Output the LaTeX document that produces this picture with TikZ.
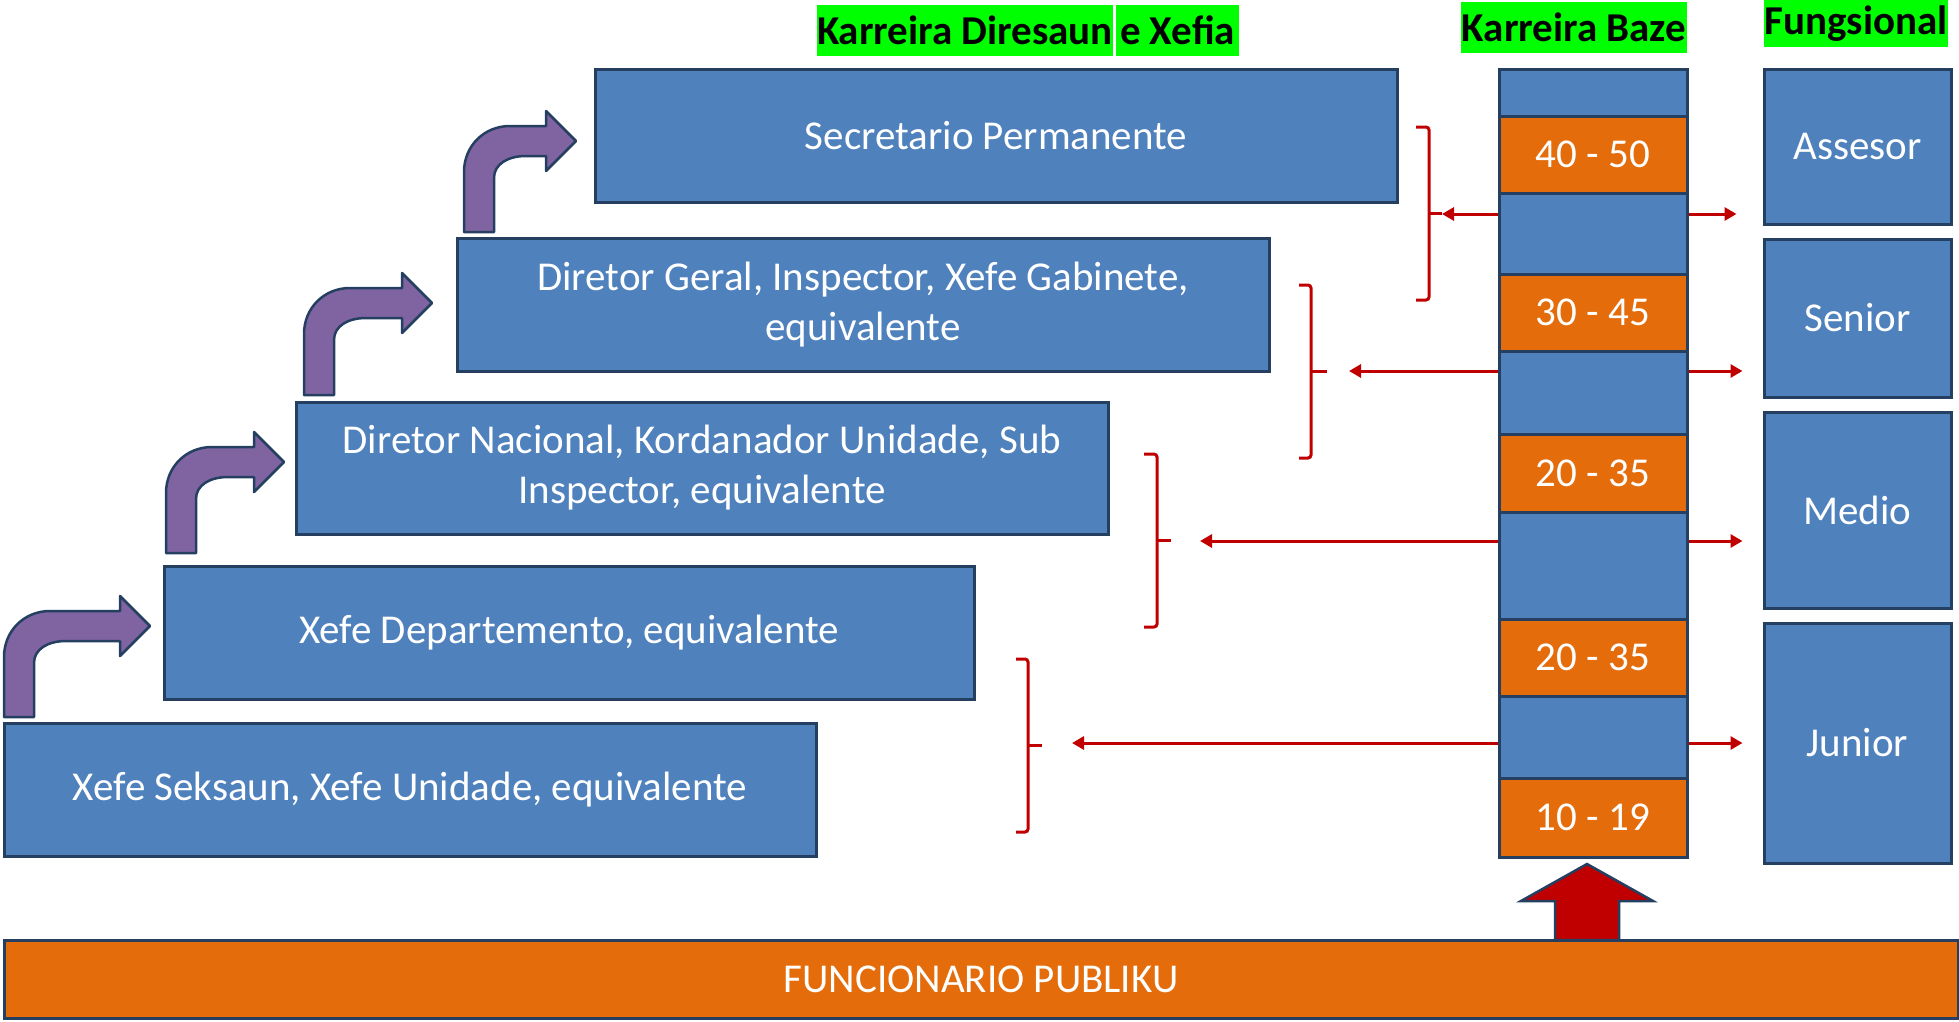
\documentclass[tikz,border=0pt]{standalone}
\usepackage{fontspec}
\setmainfont{Carlito}
\usepackage{tikz}
\usetikzlibrary{arrows.meta}

\definecolor{boxblue}{HTML}{4F81BD}
\definecolor{boxline}{HTML}{243F60}
\definecolor{baseorange}{HTML}{E46C0A}
\definecolor{climbviolet}{HTML}{8064A2}
\definecolor{linkred}{HTML}{C00000}
\definecolor{headgreen}{HTML}{00FF00}

% stem left, stem bottom, arm top, tip
\newcommand{\bentup}[4]{%
  \draw [climb] (#1, #2) -- (#1, {#3+46})
    .. controls (#1, {#3+20}) and ({#1+20}, #3) .. ({#1+46}, #3)
    -- ({#4-30}, #3) -- ({#4-30}, {#3-15}) -- (#4, {#3+15})
    -- ({#4-30}, {#3+45}) -- ({#4-30}, {#3+30}) -- ({#1+62}, {#3+30})
    .. controls ({#1+44}, {#3+30}) and ({#1+30}, {#3+38}) .. ({#1+30}, {#3+52})
    -- ({#1+30}, #2) -- cycle;}

% hook x, spine x, tip x, top y, bottom y
\newcommand{\rangebrace}[5]{%
  \draw [bracket, rounded corners = 3pt] (#1, #4) -- (#2, #4) -- (#2, #5) -- (#1, #5);
  \draw [bracket] (#2, {(#4+#5)/2}) -- (#3, {(#4+#5)/2});}

\begin{document}
\begin{tikzpicture}[x = 1pt, y = -1pt,
                        rank/.style = {draw = boxline, fill = boxblue, line width = 3pt, text = white,
                                       align = center, font = \fontsize{41}{50}\selectfont},
                        cell/.style = {rank, minimum width = 188pt},
                        band/.style = {cell, fill = baseorange},
                        heading/.style = {fill = headgreen, inner sep = 0pt, font = \bfseries\fontsize{41}{48}\selectfont},
                        link/.style = {draw = linkred, line width = 3pt, -{Triangle[length = 12pt, width = 13pt]}},
                        bracket/.style = {draw = linkred, line width = 3pt},
                        climb/.style = {draw = boxline, fill = climbviolet, line width = 2.5pt, line join = round}]
      \useasboundingbox (0, 0) rectangle (1959, 1021);

      % headings
      \node [heading, minimum width = 296pt, minimum height = 51pt] (t1) at (965, 30.5){Karreira Diresaun};
      \node [heading, minimum width = 123pt, minimum height = 51pt] (t2) at (1177.5, 30.5){e Xefia};
      \node [heading, minimum width = 226pt, minimum height = 51pt] (t3) at (1574, 27.5){Karreira Baze};
      \node [heading, minimum width = 184pt, minimum height = 47pt] (t4) at (1856, 23.5){Fungsional};

      % career steps
      \node [rank, minimum width = 802pt, minimum height = 133pt] (sp) at (996, 135.5){Secretario Permanente};
      \node [rank, minimum width = 812pt, minimum height = 133pt] (dg) at (863, 304.5){Diretor Geral, Inspector, Xefe Gabinete,\\ equivalente};
      \node [rank, minimum width = 812pt, minimum height = 132pt] (dn) at (702, 468){Diretor Nacional, Kordanador Unidade, Sub\\ Inspector, equivalente};
      \node [rank, minimum width = 810pt, minimum height = 133pt] (xd) at (569, 632.5){Xefe Departemento, equivalente};
      \node [rank, minimum width = 812pt, minimum height = 133pt] (xs) at (410, 789.5){Xefe Seksaun, Xefe Unidade, equivalente};

      \bentup{464}{232}{126}{576}
      \bentup{304}{395}{288}{432}
      \bentup{166}{553}{447}{284}
      \bentup{4}{717}{611}{150}

      % base career column
      \node [cell, minimum height = 47pt] (k0) at (1593, 92.5){};
      \node [band, minimum height = 77pt] (k1) at (1593, 154.5){40 - 50};
      \node [cell, minimum height = 81pt] (k2) at (1593, 233.5){};
      \node [band, minimum height = 77pt] (k3) at (1593, 312.5){30 - 45};
      \node [cell, minimum height = 83pt] (k4) at (1593, 392.5){};
      \node [band, minimum height = 78pt] (k5) at (1593, 473){20 - 35};
      \node [cell, minimum height = 107pt] (k6) at (1593, 565.5){};
      \node [band, minimum height = 77pt] (k7) at (1593, 657.5){20 - 35};
      \node [cell, minimum height = 82pt] (k8) at (1593, 737){};
      \node [band, minimum height = 79pt] (k9) at (1593, 817.5){10 - 19};

      % functional
      \node [rank, minimum width = 187pt, minimum height = 155pt] (fa) at (1857.5, 146.5){Assesor};
      \node [rank, minimum width = 187pt, minimum height = 158pt] (fs) at (1857.5, 318){Senior};
      \node [rank, minimum width = 187pt, minimum height = 196pt] (fm) at (1857.5, 510){Medio};
      \node [rank, minimum width = 187pt, minimum height = 240pt] (fj) at (1857.5, 743){Junior};

      \node [rank, fill = baseorange, minimum width = 1954pt, minimum height = 78pt] (fp) at (981, 979){FUNCIONARIO PUBLIKU};
      \draw [draw = boxline, fill = linkred, line width = 2.5pt] (1555, 940) -- (1555, 901) -- (1521, 901) -- (1587, 864)
        -- (1653, 901) -- (1619, 901) -- (1619, 940) -- cycle;

      % links
      \rangebrace{1416}{1429}{1442}{127}{300}
      \rangebrace{1299}{1311}{1327}{285}{458}
      \rangebrace{1144}{1157}{1171}{454}{627}
      \rangebrace{1016}{1028}{1042}{659}{832}
      \coordinate (e1) at (1442, 214);
      \coordinate (e2) at (1349, 371);
      \coordinate (e3) at (1200, 541);
      \coordinate (e4) at (1072, 743);
      \draw [link] (k2.west |- e1) -- (e1);
      \draw [link] (k4.west |- e2) -- (e2);
      \draw [link] (k6.west |- e3) -- (e3);
      \draw [link] (k8.west |- e4) -- (e4);
      \draw [link, shorten >= 26pt] (k2.east |- e1) -- (fa.west |- e1);
      \draw [link, shorten >= 20pt] (k4.east |- e2) -- (fs.west |- e2);
      \draw [link, shorten >= 20pt] (k6.east |- e3) -- (fm.west |- e3);
      \draw [link, shorten >= 20pt] (k8.east |- e4) -- (fj.west |- e4);
    \end{tikzpicture}
\end{document}
